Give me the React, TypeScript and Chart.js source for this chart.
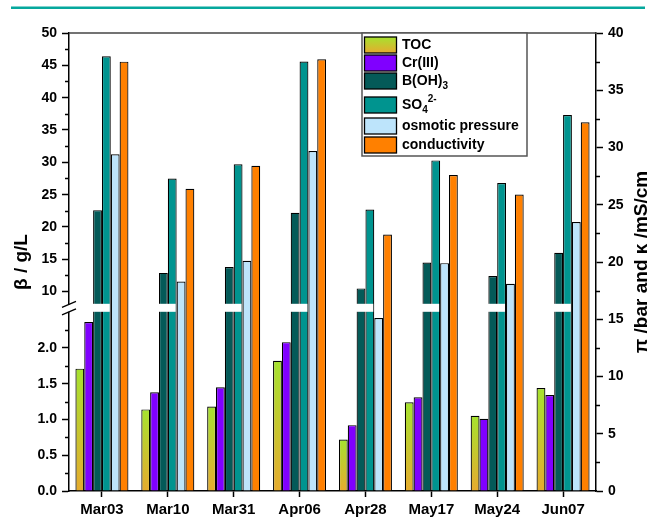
import React, { useEffect, useRef } from 'react';
import { Chart, registerables, LinearScale } from 'chart.js';

// ---------- data ----------
const categories = ['Mar03', 'Mar10', 'Mar31', 'Apr06', 'Apr28', 'May17', 'May24', 'Jun07'];
const tocValues = [1.71, 1.14, 1.18, 1.82, 0.72, 1.24, 1.05, 1.44];
const crValues = [2.36, 1.38, 1.45, 2.08, 0.92, 1.31, 1.01, 1.34];
const bohValues = [22.6, 12.9, 13.8, 22.2, 10.5, 14.5, 12.4, 16.0];
const so4Values = [46.4, 27.5, 29.7, 45.6, 22.7, 30.3, 26.8, 37.3];
const osmoticValues = [29.4, 18.3, 20.1, 29.7, 15.1, 19.9, 18.1, 23.5];
const conductivityValues = [37.5, 26.4, 28.4, 37.7, 22.4, 27.6, 25.9, 32.2];

const leftMajorTicks = [0, 0.5, 1, 1.5, 2, 10, 15, 20, 25, 30, 35, 40, 45, 50];
const leftMinorTicks = [0.25, 0.75, 1.25, 1.75, 2.25, 12.5, 17.5, 22.5, 27.5, 32.5, 37.5, 42.5, 47.5];
const rightMinorTicks = [2.5, 7.5, 12.5, 17.5, 22.5, 27.5, 32.5, 37.5];

const leftTitle = 'β / g/L';
const rightTitle = 'π /bar and κ /mS/cm';

// legend rich labels: [text, mode]
const legendLabels: [string, string][][] = [
  [['TOC', 'n']],
  [['Cr(III)', 'n']],
  [['B(OH)', 'n'], ['3', 'sub']],
  [['SO', 'n'], ['4', 'sub'], ['2-', 'sup']],
  [['osmotic pressure', 'n']],
  [['conductivity', 'n']],
];

// broken axis parameters
const LOW_MAX = 2.56;
const UP_MIN = 7.5;
const LEFT_MAX = 50;
const BREAK_FRAC = 0.4;

const FONT = "'Liberation Sans', Arial, Helvetica, sans-serif";

const COLORS = {
  tocTop: '#a6e22f',
  tocBottom: '#e6ab2e',
  cr: '#8000ff',
  boh: '#045a58',
  so4: '#00948f',
  osmotic: '#bde4fb',
  conductivity: '#ff8000',
};

class BrokenLinearScale extends LinearScale {
  static id = 'brokenLinear';
  static defaults = {};
  buildTicks() {
    super.buildTicks();
    return leftMajorTicks.map((value) => ({ value }));
  }
  toDecimal(v: number) {
    if (v <= LOW_MAX) return (v / LOW_MAX) * BREAK_FRAC;
    if (v < UP_MIN) return BREAK_FRAC;
    return BREAK_FRAC + ((v - UP_MIN) / (LEFT_MAX - UP_MIN)) * (1 - BREAK_FRAC);
  }
  getPixelForValue(value: number) {
    return this.getPixelForDecimal(this.toDecimal(value));
  }
  getValueForPixel(pixel: number) {
    const d = this.getDecimalForPixel(pixel);
    if (d <= BREAK_FRAC) return (d / BREAK_FRAC) * LOW_MAX;
    return UP_MIN + ((d - BREAK_FRAC) / (1 - BREAK_FRAC)) * (LEFT_MAX - UP_MIN);
  }
}

Chart.register(...registerables, BrokenLinearScale);

function tocGradient(ctx: any) {
  const chart = ctx.chart;
  if (!chart.chartArea || ctx.type !== 'data') return COLORS.tocTop;
  const y = chart.scales.y;
  const top = y.getPixelForValue(ctx.raw);
  const bottom = y.getPixelForValue(0);
  const g = chart.ctx.createLinearGradient(0, top, 0, bottom);
  g.addColorStop(0, COLORS.tocTop);
  g.addColorStop(1, COLORS.tocBottom);
  return g;
}

function drawRich(ctx: CanvasRenderingContext2D, x: number, y: number, parts: [string, string][]) {
  let cx = x;
  for (const [t, mode] of parts) {
    if (mode === 'n') {
      ctx.font = `bold 14px ${FONT}`;
      ctx.fillText(t, cx, y);
    } else if (mode === 'sub') {
      ctx.font = `bold 10px ${FONT}`;
      ctx.fillText(t, cx, y + 5);
    } else {
      ctx.font = `bold 10px ${FONT}`;
      ctx.fillText(t, cx, y - 6);
    }
    cx += ctx.measureText(t).width;
  }
}

const decorPlugin = {
  id: 'decor',
  beforeDraw(chart: any) {
    const ctx = chart.ctx;
    ctx.save();
    ctx.fillStyle = '#fff';
    ctx.fillRect(0, 0, chart.width, chart.height);
    ctx.fillStyle = '#05a89d';
    ctx.fillRect(11, 6.5, 634, 2.5);
    ctx.restore();
  },
  afterDatasetsDraw(chart: any) {
    const ctx = chart.ctx;
    const y = chart.scales.y;
    const yB = y.getPixelForDecimal(BREAK_FRAC);
    const mB = chart.getDatasetMeta(2);
    const mS = chart.getDatasetMeta(3);
    ctx.save();
    ctx.fillStyle = '#fff';
    for (let i = 0; i < categories.length; i++) {
      const b = mB.data[i];
      const s = mS.data[i];
      if (!b || !s) continue;
      const x0 = b.x - b.width / 2 - 1;
      const x1 = s.x + s.width / 2 - 1;
      ctx.fillRect(x0, yB - 4, x1 - x0, 8);
    }
    ctx.restore();
  },
  afterDraw(chart: any) {
    const ctx = chart.ctx;
    const area = chart.chartArea;
    const y = chart.scales.y;
    const y1 = chart.scales.y1;
    ctx.save();
    // top frame line
    ctx.strokeStyle = '#444';
    ctx.lineWidth = 1.5;
    ctx.beginPath();
    ctx.moveTo(area.left, area.top);
    ctx.lineTo(area.right, area.top);
    ctx.stroke();
    // minor ticks
    ctx.strokeStyle = '#000';
    ctx.lineWidth = 1.5;
    ctx.beginPath();
    for (const v of leftMinorTicks) {
      const p = Math.round(y.getPixelForValue(v)) + 0.5;
      ctx.moveTo(area.left, p);
      ctx.lineTo(area.left - 4, p);
    }
    for (const v of rightMinorTicks) {
      const p = Math.round(y1.getPixelForValue(v)) + 0.5;
      ctx.moveTo(area.right, p);
      ctx.lineTo(area.right + 4, p);
    }
    ctx.stroke();
    // axis break
    const yB = y.getPixelForDecimal(BREAK_FRAC);
    ctx.fillStyle = '#fff';
    ctx.fillRect(area.left - 3, yB - 3, 6, 7);
    ctx.strokeStyle = '#000';
    ctx.lineWidth = 1.3;
    ctx.beginPath();
    ctx.moveTo(area.left - 7, yB - 0.5);
    ctx.lineTo(area.left + 7, yB - 6.5);
    ctx.moveTo(area.left - 7, yB + 7);
    ctx.lineTo(area.left + 7, yB + 1);
    ctx.stroke();
    // right title
    ctx.save();
    ctx.translate(642, (area.top + area.bottom) / 2);
    ctx.rotate(-Math.PI / 2);
    ctx.fillStyle = '#000';
    ctx.font = `bold 19px ${FONT}`;
    ctx.textAlign = 'center';
    ctx.textBaseline = 'middle';
    ctx.fillText(rightTitle, 0, 0);
    ctx.restore();
    // legend
    const lx = 362, ly = 33, lw = 165, lh = 123;
    ctx.fillStyle = '#fff';
    ctx.fillRect(lx, ly, lw, lh);
    ctx.strokeStyle = '#555';
    ctx.lineWidth = 1.5;
    ctx.strokeRect(lx, ly, lw, lh);
    const rows = [37, 55, 73, 97, 118, 137];
    const fills = [null, COLORS.cr, COLORS.boh, COLORS.so4, COLORS.osmotic, COLORS.conductivity];
    for (let i = 0; i < rows.length; i++) {
      const top = rows[i];
      const h = 16;
      if (i === 0) {
        const g = ctx.createLinearGradient(0, top, 0, top + h);
        g.addColorStop(0, COLORS.tocTop);
        g.addColorStop(1, COLORS.tocBottom);
        ctx.fillStyle = g;
      } else {
        ctx.fillStyle = fills[i] as string;
      }
      ctx.fillRect(364.5, top, 32, h);
      ctx.strokeStyle = '#000';
      ctx.lineWidth = 1.3;
      ctx.strokeRect(364.5, top, 32, h);
      ctx.fillStyle = '#000';
      ctx.textAlign = 'left';
      ctx.textBaseline = 'middle';
      drawRich(ctx, 402, top + h / 2, legendLabels[i]);
    }
    ctx.restore();
  },
};

const tickFont = { family: FONT, size: 14, weight: 'bold' as const };

export default function App() {
  const ref = useRef<HTMLCanvasElement>(null);
  useEffect(() => {
    const canvas = ref.current;
    if (!canvas) return;
    const barCommon = {
      borderColor: '#000',
      borderWidth: 1.2,
      categoryPercentage: 0.805,
      barPercentage: 1.0,
    };
    const chart = new Chart(canvas, {
      type: 'bar',
      data: {
        labels: categories,
        datasets: [
          { label: 'TOC', data: tocValues, backgroundColor: tocGradient, yAxisID: 'y', ...barCommon },
          { label: 'Cr(III)', data: crValues, backgroundColor: COLORS.cr, yAxisID: 'y', ...barCommon },
          { label: 'B(OH)3', data: bohValues, backgroundColor: COLORS.boh, yAxisID: 'y', ...barCommon },
          { label: 'SO4 2-', data: so4Values, backgroundColor: COLORS.so4, yAxisID: 'y', ...barCommon },
          { label: 'osmotic pressure', data: osmoticValues, backgroundColor: COLORS.osmotic, yAxisID: 'y1', ...barCommon },
          { label: 'conductivity', data: conductivityValues, backgroundColor: COLORS.conductivity, yAxisID: 'y1', ...barCommon },
        ],
      } as any,
      options: {
        responsive: false,
        animation: false,
        devicePixelRatio: 1,
        layout: { padding: { top: 33, left: 0, right: 0, bottom: 0 } },
        plugins: { legend: { display: false }, tooltip: { enabled: false } },
        scales: {
          x: {
            type: 'category',
            offset: true,
            grid: { offset: false, drawOnChartArea: false, tickLength: 6, tickColor: '#000', tickWidth: 1.5 },
            border: { color: '#000', width: 1.5 },
            ticks: { font: { family: FONT, size: 15, weight: 'bold' }, color: '#000', padding: 4, maxRotation: 0, autoSkip: false },
            afterFit: (s: any) => { s.height = 27; },
          },
          y: {
            type: 'brokenLinear',
            position: 'left',
            min: 0,
            max: LEFT_MAX,
            grid: { drawOnChartArea: false, tickLength: 7, tickColor: '#000', tickWidth: 1.5 },
            border: { color: '#000', width: 1.5 },
            ticks: {
              autoSkip: false,
              font: tickFont,
              color: '#000',
              padding: 5,
              callback: (v: any) => (Number(v) < 5 ? Number(v).toFixed(1) : String(v)),
            },
            title: { display: true, text: leftTitle, color: '#000', font: { family: FONT, size: 19, weight: 'bold' }, padding: { top: 10, bottom: 0 } },
            afterFit: (s: any) => { s.width = 69; },
          },
          y1: {
            type: 'linear',
            position: 'right',
            min: 0,
            max: 40,
            grid: { drawOnChartArea: false, tickLength: 7, tickColor: '#000', tickWidth: 1.5 },
            border: { color: '#000', width: 1.5 },
            ticks: { stepSize: 5, autoSkip: false, font: tickFont, color: '#000', padding: 5 },
            afterFit: (s: any) => { s.width = 60; },
          },
        },
      } as any,
      plugins: [decorPlugin],
    });
    return () => chart.destroy();
  }, []);
  return (
    <div style={{ position: 'absolute', left: 0, top: 0, width: 656, height: 518, background: '#fff' }}>
      <canvas ref={ref} width={656} height={518} style={{ display: 'block' }} />
    </div>
  );
}
